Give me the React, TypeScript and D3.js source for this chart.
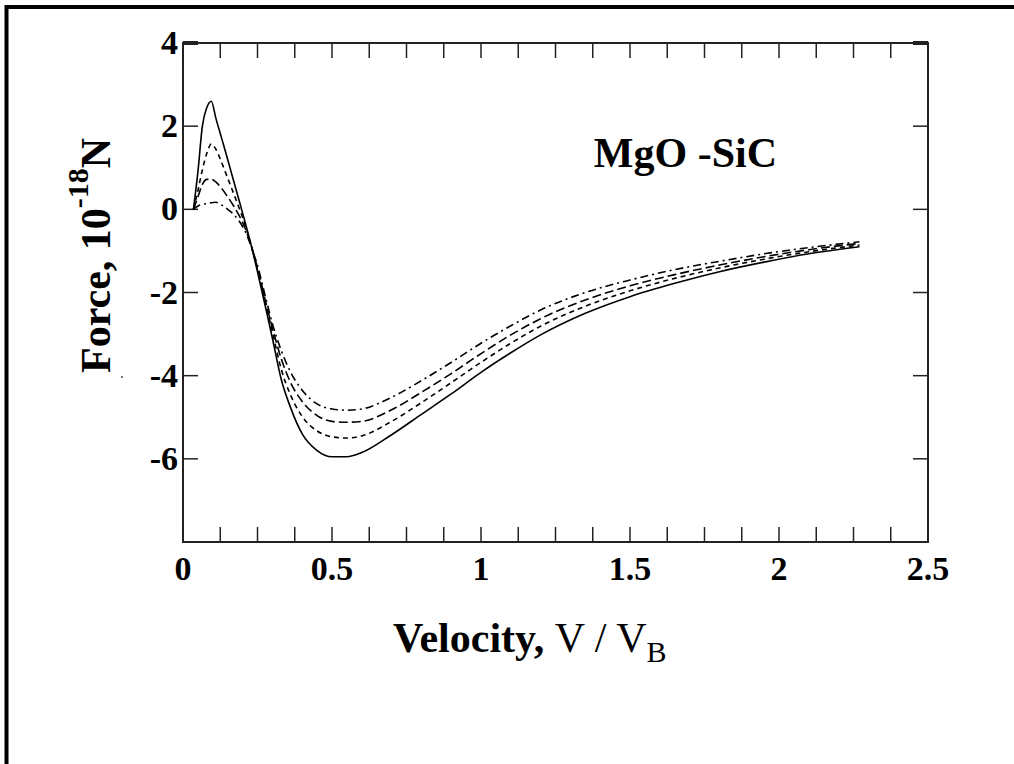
import * as d3 from "d3";

// velocity V/V_B grid shared by all curves
const velocity = [
  0.035, 0.05, 0.065, 0.08, 0.095, 0.11, 0.13, 0.15, 0.17, 0.19, 0.21, 0.23,
  0.25, 0.28, 0.3, 0.33, 0.36, 0.4, 0.45, 0.5, 0.55, 0.6, 0.7, 0.8, 0.9, 1.0,
  1.1, 1.2, 1.35, 1.5, 1.65, 1.8, 1.95, 2.1, 2.27,
];

// force, 10^-18 N
const forceSolid = [
  0, 0.9, 2.0, 2.45, 2.6, 2.2, 1.7, 1.2, 0.68, 0.17, -0.35, -0.9, -1.5, -2.45,
  -3.1, -4.1, -4.75, -5.4, -5.8, -5.95, -5.95, -5.85, -5.42, -4.93, -4.44,
  -3.92, -3.45, -3.02, -2.5, -2.1, -1.78, -1.5, -1.27, -1.07, -0.9,
];
const forceDash3 = [
  0, 0.45, 0.95, 1.35, 1.57, 1.45, 1.12, 0.75, 0.38, 0.0, -0.4, -0.9, -1.45,
  -2.35, -2.95, -3.85, -4.45, -4.98, -5.33, -5.47, -5.5, -5.45, -5.1, -4.65,
  -4.17, -3.68, -3.22, -2.81, -2.33, -1.96, -1.66, -1.41, -1.2, -1.02, -0.86,
];
const forceDash2 = [
  0, 0.3, 0.6, 0.72, 0.72, 0.66, 0.5, 0.3, 0.08, -0.17, -0.48, -0.9, -1.4,
  -2.3, -2.85, -3.6, -4.15, -4.62, -4.96, -5.1, -5.12, -5.1, -4.82, -4.4,
  -3.95, -3.47, -3.02, -2.63, -2.18, -1.84, -1.57, -1.34, -1.14, -0.97, -0.82,
];
const forceDash1 = [
  0, 0.08, 0.12, 0.14, 0.16, 0.17, 0.1, 0.0, -0.12, -0.3, -0.55, -0.92, -1.35,
  -2.2, -2.75, -3.4, -3.9, -4.35, -4.68, -4.8, -4.83, -4.8, -4.52, -4.12,
  -3.68, -3.22, -2.8, -2.42, -2.0, -1.7, -1.45, -1.25, -1.07, -0.92, -0.78,
];

const xTickLabels = [0, 0.5, 1, 1.5, 2, 2.5];
const xMinorTicks = d3.range(0, 21).map((i) => i * 0.125);
const yTickLabels = [-6, -4, -2, 0, 2, 4];

const series = [
  { values: forceSolid, dash: "none" },
  { values: forceDash3, dash: "5,4" },
  { values: forceDash2, dash: "9,4" },
  { values: forceDash1, dash: "8,4,2,4" },
];

const W = 1014;
const H = 764;
const serif = "'Liberation Serif', 'Times New Roman', serif";

export default function App() {
  const x = d3.scaleLinear().domain([0, 2.5]).range([183, 928]);
  const y = d3.scaleLinear().domain([-8, 4]).range([542, 43]);

  const line = d3
    .line<number>()
    .x((_, i) => x(velocity[i]))
    .y((d) => y(d))
    .curve(d3.curveMonotoneX);

  const tick = 15;

  return (
    <svg
      width={W}
      height={H}
      style={{ position: "fixed", left: 0, top: 0, background: "#fff" }}
    >
      {/* outer frame, only top and left edges are in view */}
      <path d={`M6.5,${H} V7 H${W}`} fill="none" stroke="#000" strokeWidth={4} />

      {/* plot box */}
      <rect
        x={x(0)}
        y={y(4)}
        width={x(2.5) - x(0)}
        height={y(-8) - y(4)}
        fill="none"
        stroke="#222"
        strokeWidth={2}
      />

      {/* x ticks bottom and top */}
      {xMinorTicks.map((t) => (
        <g key={"xt" + t}>
          <line x1={x(t)} x2={x(t)} y1={y(-8)} y2={y(-8) - tick} stroke="#222" strokeWidth={1.5} />
          <line x1={x(t)} x2={x(t)} y1={y(4)} y2={y(4) + tick} stroke="#222" strokeWidth={1.5} />
        </g>
      ))}
      {/* y ticks left and right */}
      {yTickLabels.map((t) => (
        <g key={"yt" + t}>
          <line x1={x(0)} x2={x(0) + tick} y1={y(t)} y2={y(t)} stroke="#222" strokeWidth={t === 4 ? 4 : 1.5} />
          <line x1={x(2.5)} x2={x(2.5) - tick} y1={y(t)} y2={y(t)} stroke="#222" strokeWidth={t === 4 ? 4 : 1.5} />
        </g>
      ))}

      {/* tick labels */}
      {xTickLabels.map((t) => (
        <text
          key={"xl" + t}
          x={x(t)}
          y={580}
          textAnchor="middle"
          fontFamily={serif}
          fontWeight="bold"
          fontSize={34}
        >
          {t}
        </text>
      ))}
      {yTickLabels.map((t) => (
        <text
          key={"yl" + t}
          x={178}
          y={y(t) + 11}
          textAnchor="end"
          fontFamily={serif}
          fontWeight="bold"
          fontSize={34}
        >
          {t}
        </text>
      ))}

      {/* curves */}
      {series.map((s, i) => (
        <path
          key={"s" + i}
          d={line(s.values) ?? ""}
          fill="none"
          stroke="#000"
          strokeWidth={1.6}
          strokeDasharray={s.dash}
        />
      ))}

      {/* annotation */}
      <text x={777} y={167} textAnchor="end" fontFamily={serif} fontWeight="bold" fontSize={42}>
        MgO -SiC
      </text>

      {/* x title */}
      <text x={393} y={652} fontFamily={serif} fontSize={42}>
        <tspan fontWeight="bold">Velocity, </tspan>
        <tspan>V / V</tspan>
        <tspan fontSize={30} dy={10}>B</tspan>
      </text>

      {/* y title */}
      <text
        transform="translate(110,373) rotate(-90)"
        fontFamily={serif}
        fontWeight="bold"
        fontSize={42}
      >
        Force, 10
        <tspan fontSize={30} dy={-22}>-18</tspan>
        <tspan dy={22}>N</tspan>
      </text>

      {/* stray dot from the scan */}
      <circle cx={122} cy={377} r={1} fill="#555" />
    </svg>
  );
}
